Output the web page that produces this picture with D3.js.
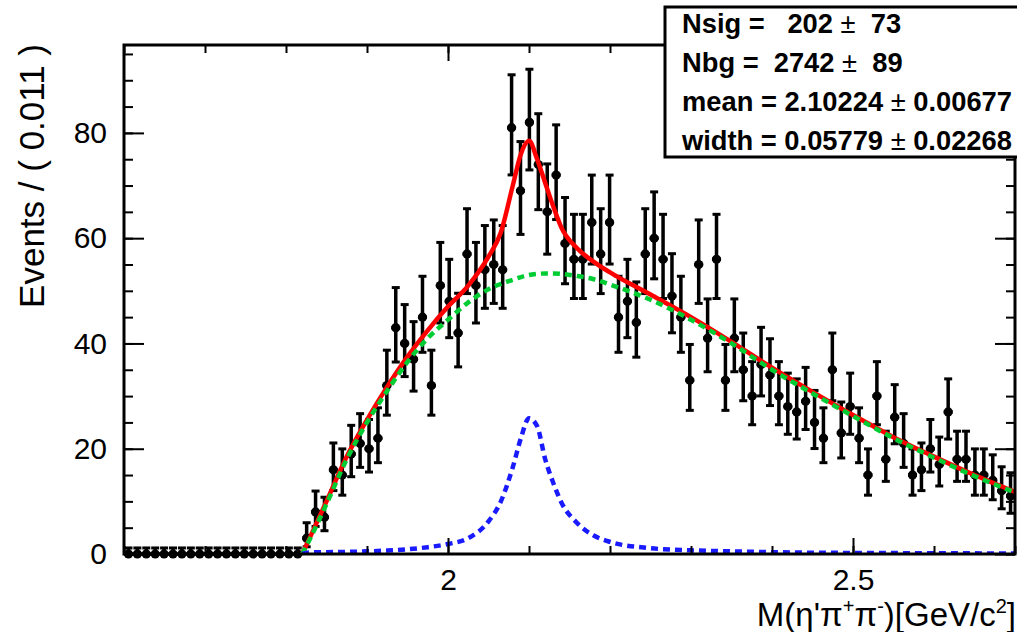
<!DOCTYPE html>
<html>
<head>
<meta charset="utf-8">
<script src="https://cdn.jsdelivr.net/npm/d3@7"></script>
<style>
  body { margin: 0; background: #fff; }
  svg { font-family: "Liberation Sans", Arial, Helvetica, sans-serif; }
</style>
</head>
<body>
<svg id="chart" width="1017" height="632"></svg>
<script>
// Binning of the histogram
var binLow = 1.6
var binWidth = 0.011

// Events per bin (100 bins, 1.6 -> 2.7)
var counts = [
  0, 0, 0, 0, 0, 0, 0, 0, 0, 0,
  0, 0, 0, 0, 0, 0, 0, 0, 0, 0,
  3, 8, 7, 16, 15, 19, 21, 20, 22, 32,
  43, 40, 37, 45, 32, 51, 48, 42, 57, 51,
  54, 55, 54, 81, 69, 82, 74, 65, 72, 59,
  56, 56, 63, 57, 63, 45, 48, 44, 57, 60,
  56, 49, 45, 33, 55, 41, 56, 33, 41, 35,
  30, 36, 34, 30, 28, 27, 29, 25, 22, 35,
  23, 28, 22, 15, 30, 18, 26, 21, 15, 16,
  20, 17, 27, 18, 18, 15, 15, 14, 12, 11
]

// Fit curves
var curveX = [1.82, 1.83, 1.85, 1.875, 1.9, 1.925, 1.95, 1.975, 2.0, 2.025, 2.05, 2.065, 2.08, 2.09,
  2.1, 2.11, 2.12, 2.13, 2.14, 2.16, 2.18, 2.2, 2.25, 2.3, 2.35, 2.4, 2.45, 2.5, 2.55, 2.6, 2.65, 2.7]
var totalY = [0, 3.3, 10, 18.5, 25.5, 31.8, 37.5, 42.5, 47, 51, 56.5, 61, 70, 76,
  78.5, 75, 70.5, 66, 62, 58, 55.5, 53.5, 49.3, 45, 40.3, 35.4, 30.8, 26.4, 22.2, 18.5, 15, 11.8]
var bkgY = [0, 3, 9.5, 18, 25, 31, 36.5, 41, 44.5, 47.8, 50.3, 51.3, 52.1, 52.6,
  53, 53.2, 53.3, 53.3, 53.2, 52.8, 52.2, 51.2, 48.3, 44.5, 40, 35, 30.5, 26.2, 22, 18.3, 14.8, 11.7]
var sigY = [0, 0.3, 0.35, 0.4, 0.5, 0.65, 0.9, 1.3, 1.9, 3.0, 6.2, 9.9, 16.5, 22,
  25.8, 24.3, 18, 13.5, 9.8, 5.8, 3.5, 2.3, 1.1, 0.7, 0.5, 0.35, 0.25, 0.2, 0.17, 0.15, 0.12, 0.1]

// Axis ticks
var xMajorTicks = [2, 2.5]
var yMajorTicks = [0, 20, 40, 60, 80]

// Fit results box
var statNames = ['Nsig =   ', 'Nbg =  ', 'mean = ', 'width = ']
var statValues = ['202', '2742', '2.10224', '0.05779']
var statErrors = ['73', '89', '0.00677', '0.02268']

var margin = { top: 45, right: 2, bottom: 78, left: 124 }
var width = 1017
var height = 632
var plotW = width - margin.left - margin.right
var plotH = height - margin.top - margin.bottom

var svg = d3.select('#chart')
svg.append('rect').attr('width', width).attr('height', height).attr('fill', '#fff')

var x = d3.scaleLinear().domain([1.6, 2.7]).range([0, plotW])
var y = d3.scaleLinear().domain([0, 96.7]).range([plotH, 0])

var g = svg.append('g').attr('transform', 'translate(' + margin.left + ',' + margin.top + ')')

g.append('clipPath').attr('id', 'clip')
  .append('rect').attr('width', plotW).attr('height', plotH)

// Poisson 1-sigma interval (Gehrels approximation)
function poisson (n) {
  if (n === 0) return [0, 1.148]
  var lo = n * Math.pow(1 - 1 / (9 * n) - 1 / (3 * Math.sqrt(n)), 3)
  var hi = n + Math.sqrt(n + 0.75) + 1
  return [lo, hi]
}

var data = counts.map(function (c, i) {
  var e = poisson(c)
  return { x: binLow + binWidth * (i + 0.5), x0: binLow + binWidth * i, x1: binLow + binWidth * (i + 1), n: c, lo: e[0], hi: e[1] }
})

// Axes (ticks pointing inward, ROOT style)
function drawAxes () {
  var minorX = d3.range(16, 28).map(function (d) { return d / 10 })
  var minorY = d3.range(0, 97, 5)

  g.append('g').attr('class', 'x-minor').attr('transform', 'translate(0,' + plotH + ')')
    .call(d3.axisBottom(x).tickValues(minorX).tickSize(-8).tickFormat(''))
  g.append('g').attr('class', 'x-major').attr('transform', 'translate(0,' + plotH + ')')
    .call(d3.axisBottom(x).tickValues(xMajorTicks).tickSize(-16).tickPadding(15).tickFormat(d3.format('')))
  g.append('g').attr('class', 'x-top')
    .call(d3.axisTop(x).tickValues(minorX).tickSize(-8).tickFormat(''))
  g.append('g').attr('class', 'x-top')
    .call(d3.axisTop(x).tickValues(xMajorTicks).tickSize(-16).tickFormat(''))

  g.append('g').attr('class', 'y-minor')
    .call(d3.axisLeft(y).tickValues(minorY).tickSize(-9).tickFormat(''))
  g.append('g').attr('class', 'y-major')
    .call(d3.axisLeft(y).tickValues(yMajorTicks).tickSize(-20).tickPadding(17).tickFormat(d3.format('')))
  g.append('g').attr('class', 'y-right').attr('transform', 'translate(' + plotW + ',0)')
    .call(d3.axisRight(y).tickValues(minorY).tickSize(-9).tickFormat(''))
  g.append('g').attr('class', 'y-right').attr('transform', 'translate(' + plotW + ',0)')
    .call(d3.axisRight(y).tickValues(yMajorTicks).tickSize(-20).tickFormat(''))

  g.selectAll('.domain').remove()
  g.selectAll('.tick line').attr('stroke', '#000').attr('stroke-width', 2)
  g.selectAll('.tick text').attr('fill', '#000').style('font-size', '30px')

  g.append('rect')
    .attr('width', plotW).attr('height', plotH)
    .attr('fill', 'none').attr('stroke', '#000').attr('stroke-width', 3)
}

function drawPoints () {
  var pts = g.append('g').attr('class', 'points')
  pts.selectAll('.ebar').data(data).enter().append('line')
    .attr('x1', function (d) { return x(d.x) }).attr('x2', function (d) { return x(d.x) })
    .attr('y1', function (d) { return y(d.lo) }).attr('y2', function (d) { return y(d.hi) })
    .attr('stroke', '#000').attr('stroke-width', 3.5)
  pts.selectAll('.xbar').data(data).enter().append('line')
    .attr('x1', function (d) { return x(d.x0) }).attr('x2', function (d) { return x(d.x1) })
    .attr('y1', function (d) { return y(d.n) }).attr('y2', function (d) { return y(d.n) })
    .attr('stroke', '#000').attr('stroke-width', 3.5)
  pts.selectAll('.capHi').data(data).enter().append('line')
    .attr('x1', function (d) { return x(d.x) - 4 }).attr('x2', function (d) { return x(d.x) + 4 })
    .attr('y1', function (d) { return y(d.hi) }).attr('y2', function (d) { return y(d.hi) })
    .attr('stroke', '#000').attr('stroke-width', 3)
  pts.selectAll('.capLo').data(data.filter(function (d) { return d.n > 0 })).enter().append('line')
    .attr('x1', function (d) { return x(d.x) - 4 }).attr('x2', function (d) { return x(d.x) + 4 })
    .attr('y1', function (d) { return y(d.lo) }).attr('y2', function (d) { return y(d.lo) })
    .attr('stroke', '#000').attr('stroke-width', 3)
  pts.selectAll('circle').data(data).enter().append('circle')
    .attr('cx', function (d) { return x(d.x) }).attr('cy', function (d) { return y(d.n) })
    .attr('r', 4.6).attr('fill', '#000')
}

function drawCurve (ys, color, dash, w) {
  var line = d3.line()
    .x(function (d, i) { return x(curveX[i]) })
    .y(function (d) { return y(d) })
    .curve(d3.curveMonotoneX)
  g.append('path').datum(ys)
    .attr('clip-path', 'url(#clip)')
    .attr('d', line)
    .attr('fill', 'none')
    .attr('stroke', color)
    .attr('stroke-width', w)
    .attr('stroke-dasharray', dash)
}

function drawTitles () {
  var xt = svg.append('text')
    .attr('x', 1016).attr('y', 626)
    .attr('text-anchor', 'end')
    .style('font-size', '33px')
  xt.append('tspan').text('M(η\'π')
  xt.append('tspan').attr('dy', -13).style('font-size', '20px').text('+')
  xt.append('tspan').attr('dy', 13).text('π')
  xt.append('tspan').attr('dy', -13).style('font-size', '20px').text('-')
  xt.append('tspan').attr('dy', 13).text(')[GeV/c')
  xt.append('tspan').attr('dy', -13).style('font-size', '20px').text('2')
  xt.append('tspan').attr('dy', 13).text(']')

  svg.append('text')
    .attr('transform', 'translate(44,44) rotate(-90)')
    .attr('text-anchor', 'end')
    .style('font-size', '35px')
    .text('Events / ( 0.011 )')
}

function drawStatBox () {
  var box = svg.append('g').attr('class', 'stat-box')
  box.append('rect')
    .attr('x', 665).attr('y', 7).attr('width', 400).attr('height', 150)
    .attr('fill', '#fff').attr('stroke', '#000').attr('stroke-width', 3)
  statNames.forEach(function (name, i) {
    var pad = i < 2 ? '  ' : ' '
    var t = box.append('text')
      .attr('x', 682).attr('y', 33 + i * 39)
      .style('font-size', '27.3px').style('font-weight', 'bold')
      .style('white-space', 'pre')
    t.append('tspan').text(name + statValues[i] + ' ')
    t.append('tspan').style('font-weight', 'normal').text('±')
    t.append('tspan').text(pad + statErrors[i])
  })
}

drawPoints()
drawCurve(totalY, '#ff0000', null, 4.5)
drawCurve(bkgY, '#00cc33', '7,5', 4.5)
drawCurve(sigY, '#1a1aff', '7,5', 4.5)
drawAxes()
drawTitles()
drawStatBox()
</script>
</body>
</html>
